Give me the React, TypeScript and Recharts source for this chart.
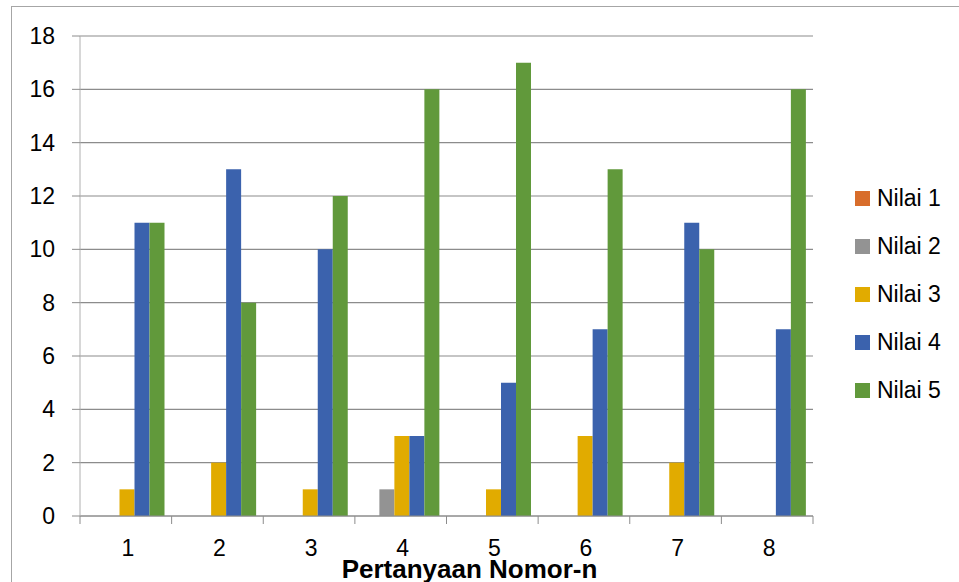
import React from 'react';
import { BarChart, Bar, XAxis, YAxis, CartesianGrid } from 'recharts';

const categories = ['1', '2', '3', '4', '5', '6', '7', '8'];
const nilai1 = [0, 0, 0, 0, 0, 0, 0, 0];
const nilai2 = [0, 0, 0, 1, 0, 0, 0, 0];
const nilai3 = [1, 2, 1, 3, 1, 3, 2, 0];
const nilai4 = [11, 13, 10, 3, 5, 7, 11, 7];
const nilai5 = [11, 8, 12, 16, 17, 13, 10, 16];
const yTicks = [0, 2, 4, 6, 8, 10, 12, 14, 16, 18];

const seriesNames = ['Nilai 1', 'Nilai 2', 'Nilai 3', 'Nilai 4', 'Nilai 5'];
const seriesColors = ['#D86D2B', '#939393', '#E1AB00', '#3B62AD', '#61993B'];

const data = categories.map((c, i) => ({
  name: c,
  n1: nilai1[i],
  n2: nilai2[i],
  n3: nilai3[i],
  n4: nilai4[i],
  n5: nilai5[i],
}));

const FONT = '"Liberation Sans", Arial, sans-serif';
const GRID = '#8c8c8c';

const CategoryTick = (props: any) => {
  const { x, y, payload, index } = props;
  const half = payload?.offset ?? 45.8;
  return (
    <g>
      <line x1={x - half} y1={y - 8} x2={x - half} y2={y} stroke={GRID} />
      {index === categories.length - 1 && (
        <line x1={x + half} y1={y - 8} x2={x + half} y2={y} stroke={GRID} />
      )}
      <text x={x + 2} y={y + 32} textAnchor="middle" fontSize={23} fill="#000" fontFamily={FONT}>
        {payload.value}
      </text>
    </g>
  );
};

const Legend = () => (
  <div style={{ position: 'absolute', left: 855, top: 174, fontFamily: FONT, fontSize: 23 }}>
    {seriesNames.map((n, i) => (
      <div key={n} style={{ display: 'flex', alignItems: 'center', height: 48 }}>
        <span style={{ width: 15, height: 15, background: seriesColors[i], marginRight: 7 }} />
        <span style={{ color: '#000' }}>{n}</span>
      </div>
    ))}
  </div>
);

export default function App() {
  return (
    <div style={{ position: 'fixed', left: 0, top: 0, width: 959, height: 582, background: '#fff', overflow: 'hidden' }}>
      <div style={{ position: 'absolute', left: 11, top: 6, width: 960, height: 590, border: '1.5px solid #a6a6a6' }} />
      <div style={{ position: 'absolute', left: 0, top: 0 }}>
        <BarChart
          width={959}
          height={582}
          data={data}
          margin={{ top: 36, right: 146, left: 0, bottom: 0 }}
          barCategoryGap={9.5}
          barGap={0}
        >
          <CartesianGrid vertical={false} stroke={GRID} strokeWidth={1.2} />
          <XAxis
            dataKey="name"
            height={66}
            axisLine={{ stroke: GRID }}
            tickLine={false}
            tick={<CategoryTick />}
            interval={0}
            label={({ viewBox }: any) => (
              <text
                x={viewBox.x + viewBox.width / 2 + 23}
                y={viewBox.y + 62}
                textAnchor="middle"
                fontSize={26}
                fontWeight="bold"
                fontFamily={FONT}
                fill="#000"
              >
                Pertanyaan Nomor-n
              </text>
            )}
          />
          <YAxis
            width={80}
            domain={[0, 18]}
            ticks={yTicks}
            interval={0}
            axisLine={{ stroke: '#b0b0b0' }}
            tickLine={{ stroke: GRID }}
            tickSize={8}
            tickMargin={17}
            tick={{ fontSize: 23, fill: '#000', fontFamily: FONT }}
          />
          {['n1', 'n2', 'n3', 'n4', 'n5'].map((k, i) => (
            <Bar key={k} dataKey={k} fill={seriesColors[i]} isAnimationActive={false} />
          ))}
        </BarChart>
      </div>
      <Legend />
    </div>
  );
}
